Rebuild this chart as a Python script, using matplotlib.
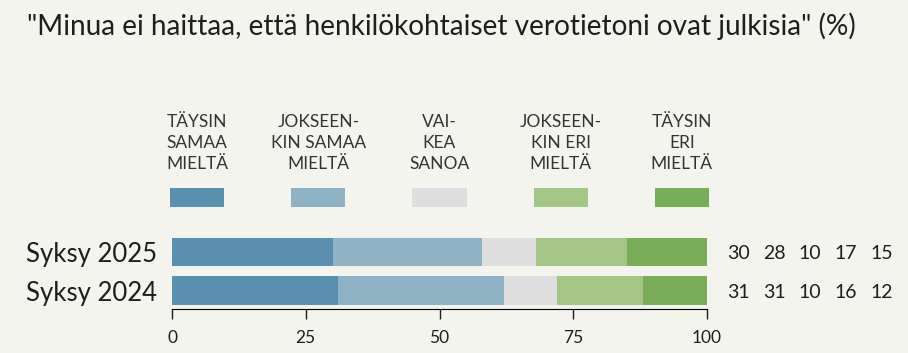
import numpy as np
import matplotlib.pyplot as plt
from matplotlib.patches import Rectangle
from matplotlib.transforms import blended_transform_factory

plt.rcParams['font.family'] = ['Lato', 'DejaVu Sans']

title = '"Minua ei haittaa, että henkilökohtaiset verotietoni ovat julkisia" (%)'
rows = ["Syksy 2025", "Syksy 2024"]
categories = ["TÄYSIN\nSAMAA\nMIELTÄ", "JOKSEEN-\nKIN SAMAA\nMIELTÄ", "VAI-\nKEA\nSANOA",
              "JOKSEEN-\nKIN ERI\nMIELTÄ", "TÄYSIN\nERI\nMIELTÄ"]
v2025 = [30, 28, 10, 17, 15]
v2024 = [31, 31, 10, 16, 12]
colors = ["#5a8fae", "#8fb2c4", "#dedede", "#a3c586", "#7aad58"]
bg = "#f4f4ef"
txt = "#1e1e1e"

fig = plt.figure(figsize=(9.08, 3.53), dpi=100, facecolor=bg)
ax = fig.add_axes([172/908, 44/353, 535/908, 77/353])
ax.set_facecolor(bg)

data = np.array([v2025, v2024])
ypos = [1, 0]
left = np.zeros(2)
for j in range(5):
    ax.barh(ypos, data[:, j], left=left, height=0.74, color=colors[j], linewidth=0)
    left += data[:, j]

ax.set_xlim(0, 100)
ax.set_ylim(-0.48, 1.52)
ax.set_xticks([0, 25, 50, 75, 100])
ax.tick_params(axis='x', direction='out', length=7, width=1, pad=8, labelsize=12.5, colors=txt)
ax.tick_params(axis='y', length=0, pad=11, labelsize=18.5, colors=txt)
ax.set_yticks(ypos)
ax.set_yticklabels(rows)
for s in ['top', 'right', 'left']:
    ax.spines[s].set_visible(False)
ax.spines['bottom'].set_color('black')

# values to the right
for i, y in enumerate(ypos):
    for j in range(5):
        ax.text(105.8 + 6.73 * j, y - 0.04, str(data[i, j]), ha='center', va='center',
                fontsize=14, color=txt, clip_on=False)

# legend above the bars
tr = blended_transform_factory(ax.transData, fig.transFigure)
centers = np.linspace(4.7, 95.3, 5)
for c, lab, col in zip(centers, categories, colors):
    fig.text(c, 1 - 143/353, lab, transform=tr, ha='center', va='center',
             fontsize=12.5, color="#333333", linespacing=1.38)
    fig.patches.append(Rectangle((c - 5.05, 1 - 207/353), 10.1, 19/353,
                                 transform=tr, color=col, linewidth=0))

fig.text(27/908, 1 - 26/353, title, ha='left', va='center', fontsize=20.2, color=txt)

fig.savefig("out.png", dpi=100, facecolor=bg)
